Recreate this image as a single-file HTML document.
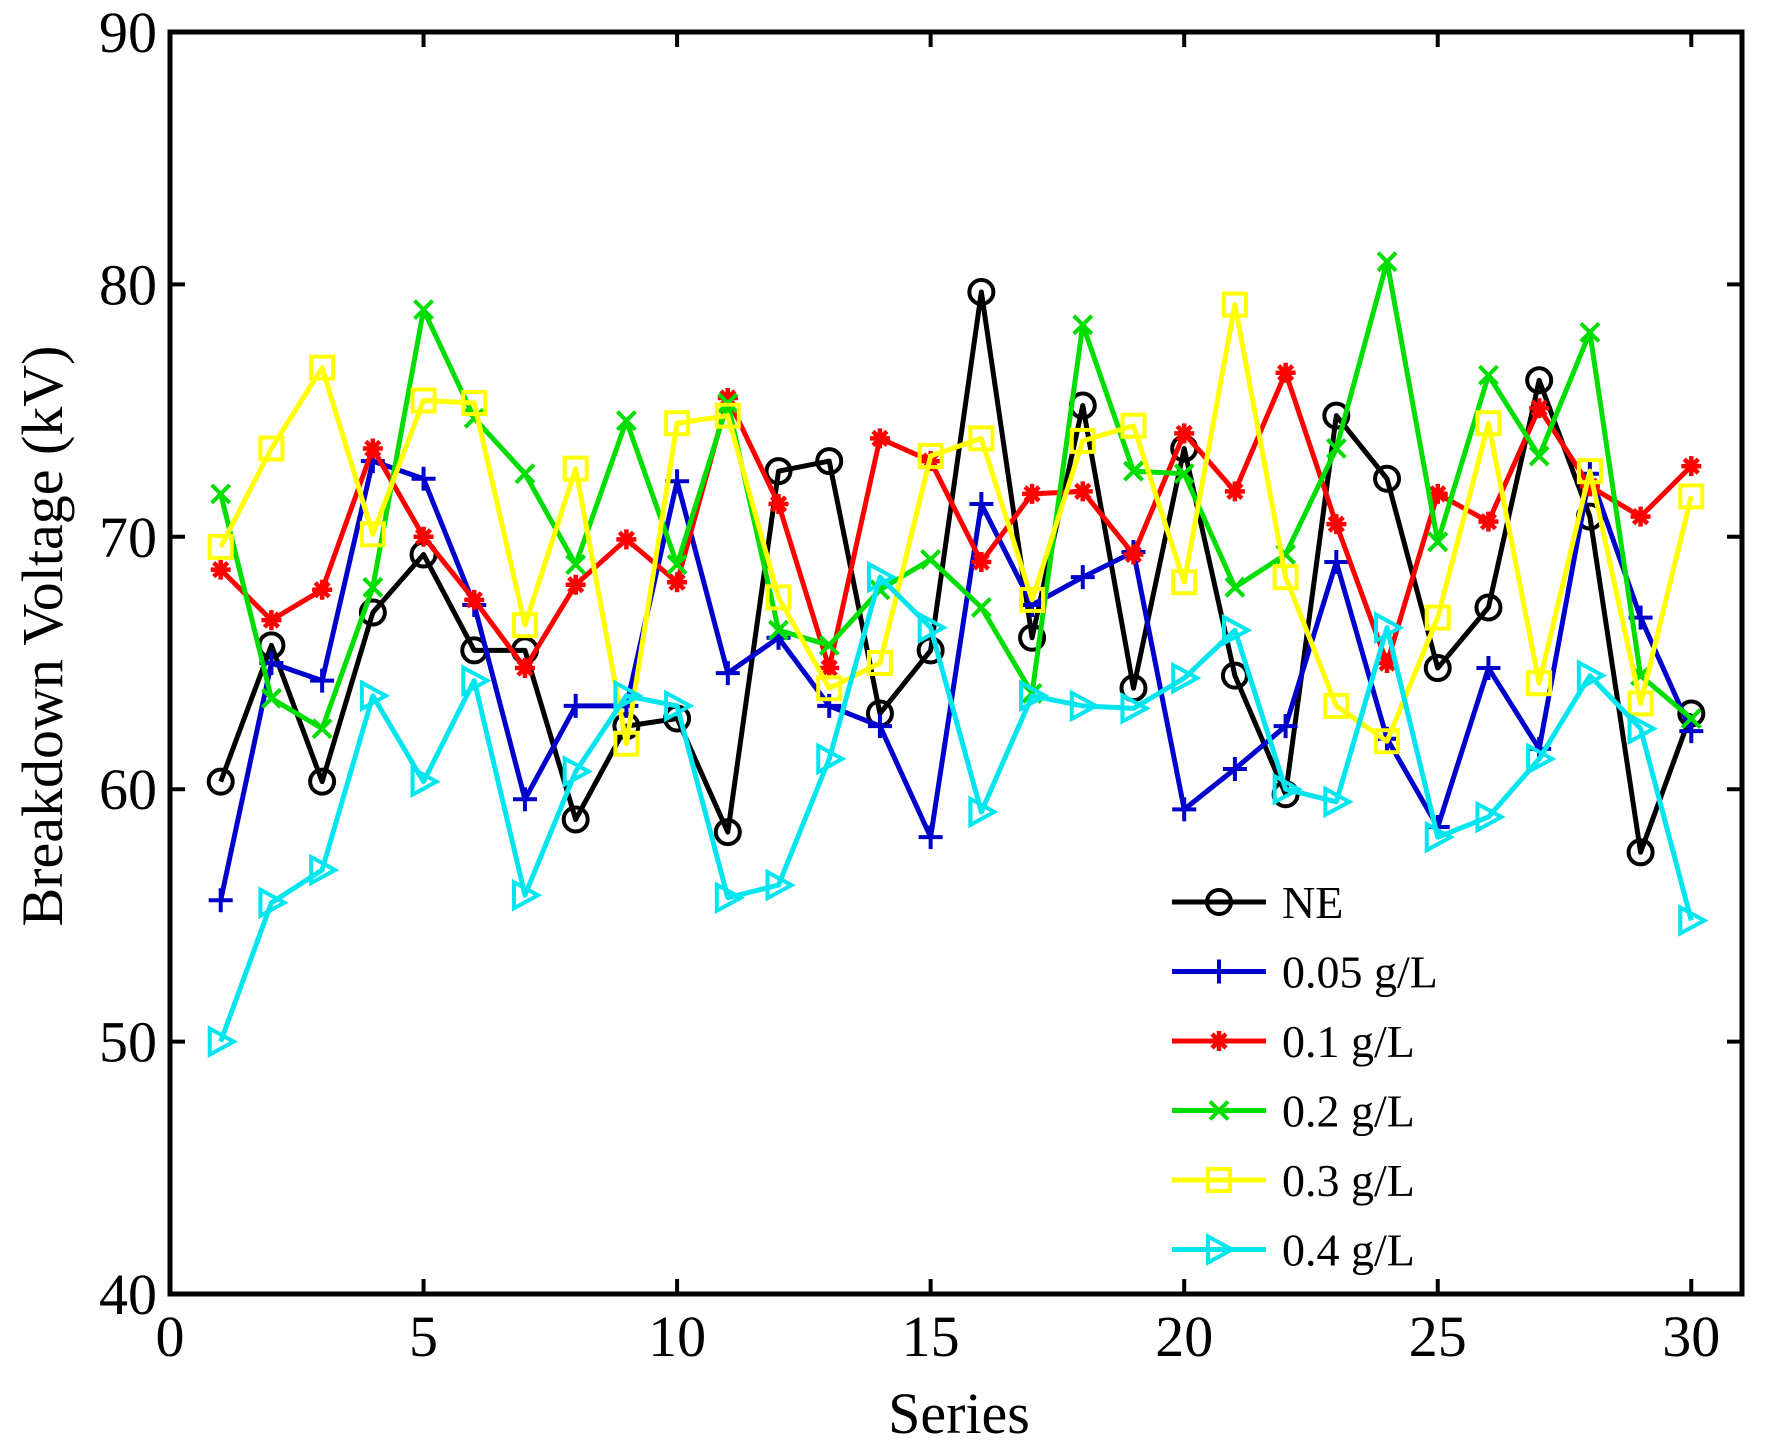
<!DOCTYPE html>
<html><head><meta charset="utf-8"><style>
html,body{margin:0;padding:0;background:#fff;}
svg{display:block;font-family:"Liberation Serif",serif;}
</style></head><body>
<svg id="chart" width="1770" height="1443" viewBox="0 0 1770 1443">
<g id="plot"></g>
</svg>
<script>
const seriesIdx = Array.from({length:30},(_,i)=>i+1);
const names = ["NE","0.05 g/L","0.1 g/L","0.2 g/L","0.3 g/L","0.4 g/L"];
const colors = ["#000000","#0000cc","#ff0000","#00dd00","#ffff00","#00e5ee"];
const markers = ["circle","plus","star","cross","square","triangle"];
const vNE = [60.3,65.7,60.3,67,69.3,65.5,65.5,58.8,62.5,62.8,58.3,72.6,73,63,65.5,79.7,66,75.2,64,73.5,64.5,59.8,74.8,72.3,64.8,67.2,76.2,70.8,57.5,63];
const v005 = [55.6,65,64.3,73,72.3,67.3,59.6,63.3,63.3,72.2,64.6,66,63.3,62.5,58.1,71.3,67.3,68.4,69.4,59.2,60.8,62.5,69,62,58.5,64.8,61.6,72.5,66.8,62.3];
const v01 = [68.7,66.7,67.9,73.5,70,67.5,64.8,68.1,69.9,68.2,75.5,71.3,64.8,73.9,73,69,71.7,71.8,69.3,74.1,71.8,76.5,70.5,65,71.7,70.6,75.1,72,70.8,72.8];
const v02 = [71.7,63.6,62.4,68,79,74.7,72.5,68.9,74.6,68.9,75.3,66.3,65.7,67.9,69.1,67.2,63.8,78.4,72.6,72.5,68,69.3,73.5,80.9,69.8,76.4,73.2,78.1,64.5,62.8];
const v03 = [69.6,73.5,76.7,70.1,75.4,75.3,66.5,72.7,61.8,74.5,74.8,67.6,64,65,73.2,73.9,67.5,73.8,74.4,68.2,79.2,68.4,63.3,61.9,66.8,74.5,64.2,72.6,63.4,71.6];
const v04 = [50,55.5,56.8,63.7,60.3,64.3,55.8,60.7,63.7,63.3,55.7,56.2,61.2,68.4,66.4,59.1,63.7,63.3,63.2,64.4,66.3,60,59.5,66.4,58.1,58.9,61.2,64.5,62.4,54.8];
const allSeries = [vNE,v005,v01,v02,v03,v04];
const xTicks = [0,5,10,15,20,25,30];
const yTicks = [40,50,60,70,80,90];

const L=170,R=1742,T=32,B=1294,xMax=31;
const X=v=>L+(v/xMax)*(R-L);
const Y=v=>B-(v-40)/50*(B-T);
const NS="http://www.w3.org/2000/svg";
const g=document.getElementById('plot');
function mk(tag,attrs,parent){const e=document.createElementNS(NS,tag);for(const k in attrs)e.setAttribute(k,attrs[k]);(parent||g).appendChild(e);return e;}

function marker(type,x,y,c,parent){
  const s=12;
  if(type==="circle") mk('circle',{cx:x,cy:y,r:s,fill:'none',stroke:c,'stroke-width':4},parent);
  else if(type==="plus") mk('path',{d:`M${x-s} ${y}H${x+s}M${x} ${y-s}V${y+s}`,stroke:c,'stroke-width':4,fill:'none'},parent);
  else if(type==="cross") mk('path',{d:`M${x-9} ${y-9}L${x+9} ${y+9}M${x-9} ${y+9}L${x+9} ${y-9}`,stroke:c,'stroke-width':4,fill:'none'},parent);
  else if(type==="star") mk('path',{d:`M${x-10} ${y}H${x+10}M${x} ${y-10}V${y+10}M${x-7} ${y-7}L${x+7} ${y+7}M${x-7} ${y+7}L${x+7} ${y-7}`,stroke:c,'stroke-width':4.5,fill:'none'},parent);
  else if(type==="square") mk('rect',{x:x-11,y:y-11,width:22,height:22,fill:'none',stroke:c,'stroke-width':4},parent);
  else if(type==="triangle") mk('path',{d:`M${x-11} ${y-13}L${x+13} ${y}L${x-11} ${y+13}Z`,fill:'none',stroke:c,'stroke-width':4},parent);
}

allSeries.forEach((vals,si)=>{
  const sg=mk('g',{});
  
  
  mk('polyline',{points:vals.map((v,i)=>X(seriesIdx[i])+','+Y(v)).join(' '),fill:'none',stroke:colors[si],'stroke-width':5,'stroke-linejoin':'round'},sg);
  vals.forEach((v,i)=>marker(markers[si],X(seriesIdx[i]),Y(v),colors[si],sg));
});

const ax=mk('rect',{x:L,y:T,width:R-L,height:B-T,fill:'none',stroke:'#000','stroke-width':5});


xTicks.forEach(t=>{
  mk('path',{d:`M${X(t)} ${B}v-15M${X(t)} ${T}v15`,stroke:'#000','stroke-width':4});
  const tx=mk('text',{x:X(t),y:B+62,'font-size':58,'text-anchor':'middle'});
  tx.textContent=t;
  
  
});
yTicks.forEach(t=>{
  mk('path',{d:`M${L} ${Y(t)}h15M${R} ${Y(t)}h-15`,stroke:'#000','stroke-width':4});
  const tx=mk('text',{x:157,y:Y(t)+20,'font-size':58,'text-anchor':'end'});
  tx.textContent=t;
  
  
});
const xt=mk('text',{x:959,y:1433,'font-size':58,'text-anchor':'middle'});
xt.textContent='Series';


const yt=mk('text',{x:0,y:0,'font-size':58,'text-anchor':'middle',transform:'translate(62,636) rotate(-90)'});
yt.textContent='Breakdown Voltage (kV)';



names.forEach((n,i)=>{
  const y=902+i*69.5;
  const lg=mk('g',{});
  
  
  mk('line',{x1:1172,y1:y,x2:1266,y2:y,stroke:colors[i],'stroke-width':5},lg);
  marker(markers[i],1219,y,colors[i],lg);
  const t=mk('text',{x:1282,y:y+16,'font-size':46},lg);
  t.textContent=n;
});
</script>
</body></html>
